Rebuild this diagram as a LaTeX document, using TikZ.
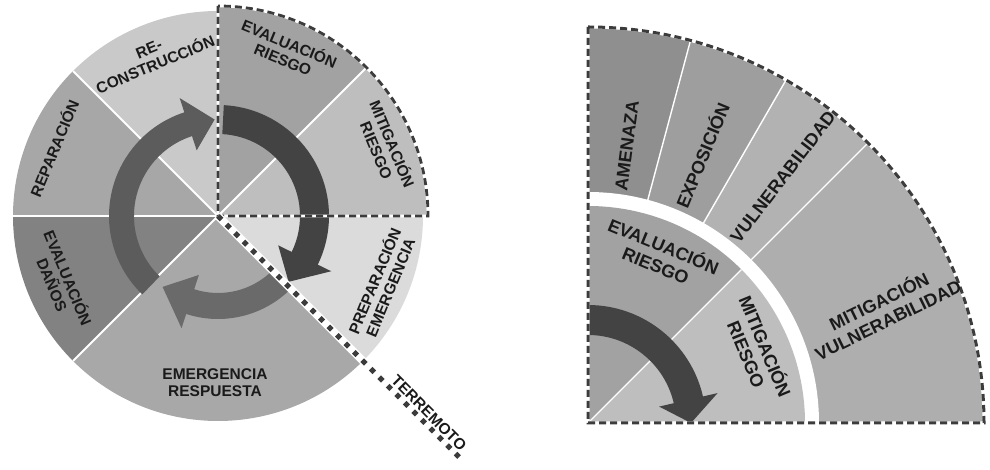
\documentclass[tikz,border=0pt]{standalone}
\usepackage{fontspec}
\setmainfont{Liberation Sans}

% grey levels of the sectors
\definecolor{ink}{HTML}{1A1A1A}
\definecolor{rec}{HTML}{C9C9C9}
\definecolor{evr}{HTML}{A2A2A2}
\definecolor{mir}{HTML}{BEBEBE}
\definecolor{pre}{HTML}{DBDBDB}
\definecolor{emr}{HTML}{A8A8A8}
\definecolor{evd}{HTML}{828282}
\definecolor{rep}{HTML}{A7A7A7}
\definecolor{ame}{HTML}{8F8F8F}
\definecolor{exp}{HTML}{9E9E9E}
\definecolor{vul}{HTML}{B2B2B2}
\definecolor{miv}{HTML}{AEAEAE}
\definecolor{arrA}{HTML}{434343}
\definecolor{arrB}{HTML}{5C5C5C}
\definecolor{arrC}{HTML}{6A6A6A}
\definecolor{rim}{HTML}{3C3C3C}

\tikzset{
  lbl/.style={font=\bfseries\fontsize{15.5}{17}\selectfont,text=ink,align=center,inner sep=0pt},
  lblbig/.style={lbl,font=\bfseries\fontsize{18}{20.5}\selectfont},
  sep/.style={white,line width=1.8pt},
  rimline/.style={rim,line width=2.8pt,dash pattern=on 7pt off 4pt},
  quake/.style={rim,line width=5pt,dash pattern=on 5pt off 7pt}
}

% filled sector: colour, from, to, radius
\newcommand{\pieslice}[4]{\fill[#1] (0,0) -- (#2:#4) arc[start angle=#2,end angle=#3,radius=#4] -- cycle;}
% curved arrow: inner r, outer r, tail angle, head base angle, tip angle, colour
\newcommand{\cyclearrow}[6]{%
  \pgfmathsetmacro\hin{#1-15}\pgfmathsetmacro\hout{#2+15}\pgfmathsetmacro\hmid{(#1+#2)/2}%
  \fill[#6] (#3:#2) arc[start angle=#3,end angle=#4,radius=#2] -- (#4:\hout) -- (#5:\hmid)
    -- (#4:\hin) -- (#4:#1) arc[start angle=#4,end angle=#3,radius=#1] -- cycle;}

\begin{document}
\begin{tikzpicture}[x=1pt,y=1pt]
  \useasboundingbox (0,0) rectangle (990,470);
  \coordinate (L) at (218,254);
  \coordinate (R) at (588,47);

  % Ciclo del desastre
  \begin{scope}[shift={(L)}]
    \pieslice{rec}{90}{135}{205}
    \pieslice{evr}{45}{90}{210}
    \pieslice{mir}{0}{45}{210}
    \pieslice{pre}{-45}{0}{205}
    \pieslice{emr}{-135}{-45}{205}
    \pieslice{evd}{180}{225}{205}
    \pieslice{rep}{135}{180}{205}
    \foreach \a in {135,180,225} \draw[sep] (0,0) -- (\a:205);
    \draw[sep] (0,0) -- (45:210);

    % Flechas
    \cyclearrow{84}{109}{226}{108}{92}{arrB}
    \cyclearrow{82}{111}{87}{-26}{-43}{arrA}
    \cyclearrow{77}{103}{-45}{-108}{-128}{arrC}

    % Cuadrante de gestion del riesgo
    \draw[white,line width=2.8pt] (90:210) -- (0,0) -- (0:210) arc[start angle=0,end angle=90,radius=210] -- cycle;
    \draw[rimline] (90:210) -- (0,0) -- (0:210) arc[start angle=0,end angle=90,radius=210] -- cycle;

    % Terremoto
    \draw[white,line width=8pt] (0,0) -- (-45:345);
    \draw[quake] (0,0) -- (-45:345);

    \node[lbl,rotate=22.5] (rec) at (112.5:172) {RE-\\CONSTRUCCIÓN};
    \node[lbl,rotate=-22.5] (evr) at (67.5:179) {EVALUACIÓN\\RIESGO};
    \node[lbl,rotate=-67.5] (mir) at (22.5:181) {MITIGACIÓN\\RIESGO};
    \node[lbl,rotate=67.5] (pre) at (-22.5:177) {PREPARACIÓN\\EMERGENCIA};
    \node[lbl] (emr) at (-3,-167) {EMERGENCIA\\RESPUESTA};
    \node[lbl,rotate=-67.5] (evd) at (-157.5:170) {EVALUACIÓN\\DAÑOS};
    \node[lbl,rotate=67.5] (rep) at (157.5:178) {REPARACIÓN};
    \node[lbl,rotate=-45] (ter) at (211,-197) {TERREMOTO};
  \end{scope}

  % Detalle del cuadrante
  \begin{scope}[shift={(R)}]
    \pieslice{ame}{75}{90}{396}
    \pieslice{exp}{60}{75}{396}
    \pieslice{vul}{45}{60}{396}
    \pieslice{miv}{0}{45}{396}
    \pieslice{white}{0}{90}{231}
    \pieslice{evr}{45}{90}{217}
    \pieslice{mir}{0}{45}{217}
    \foreach \a in {45,60,75} \draw[sep,line width=1.4pt] (\a:231) -- (\a:396);
    \draw[sep,line width=1.4pt] (0,0) -- (45:217);

    \cyclearrow{88}{118}{90}{13}{0}{arrA}

    \draw[white,line width=3pt] (90:396) -- (0,0) -- (0:396) arc[start angle=0,end angle=90,radius=396] -- cycle;
    \draw[rimline,line width=3pt] (90:396) -- (0,0) -- (0:396) arc[start angle=0,end angle=90,radius=396] -- cycle;

    \node[lblbig,rotate=82.5] (ame) at (82:280) {AMENAZA};
    \node[lblbig,rotate=67.5] (exp) at (67:291) {EXPOSICIÓN};
    \node[lblbig,rotate=52.5] (vul) at (51.6:314) {VULNERABILIDAD};
    \node[lblbig,rotate=26] (miv) at (21:316) {MITIGACIÓN\\VULNERABILIDAD};
    \node[lblbig,rotate=-22.5] (evr2) at (66.8:183) {EVALUACIÓN\\RIESGO};
    \node[lblbig,rotate=-67.5] (mir2) at (23.4:184) {MITIGACIÓN\\RIESGO};
  \end{scope}
\end{tikzpicture}
\end{document}
